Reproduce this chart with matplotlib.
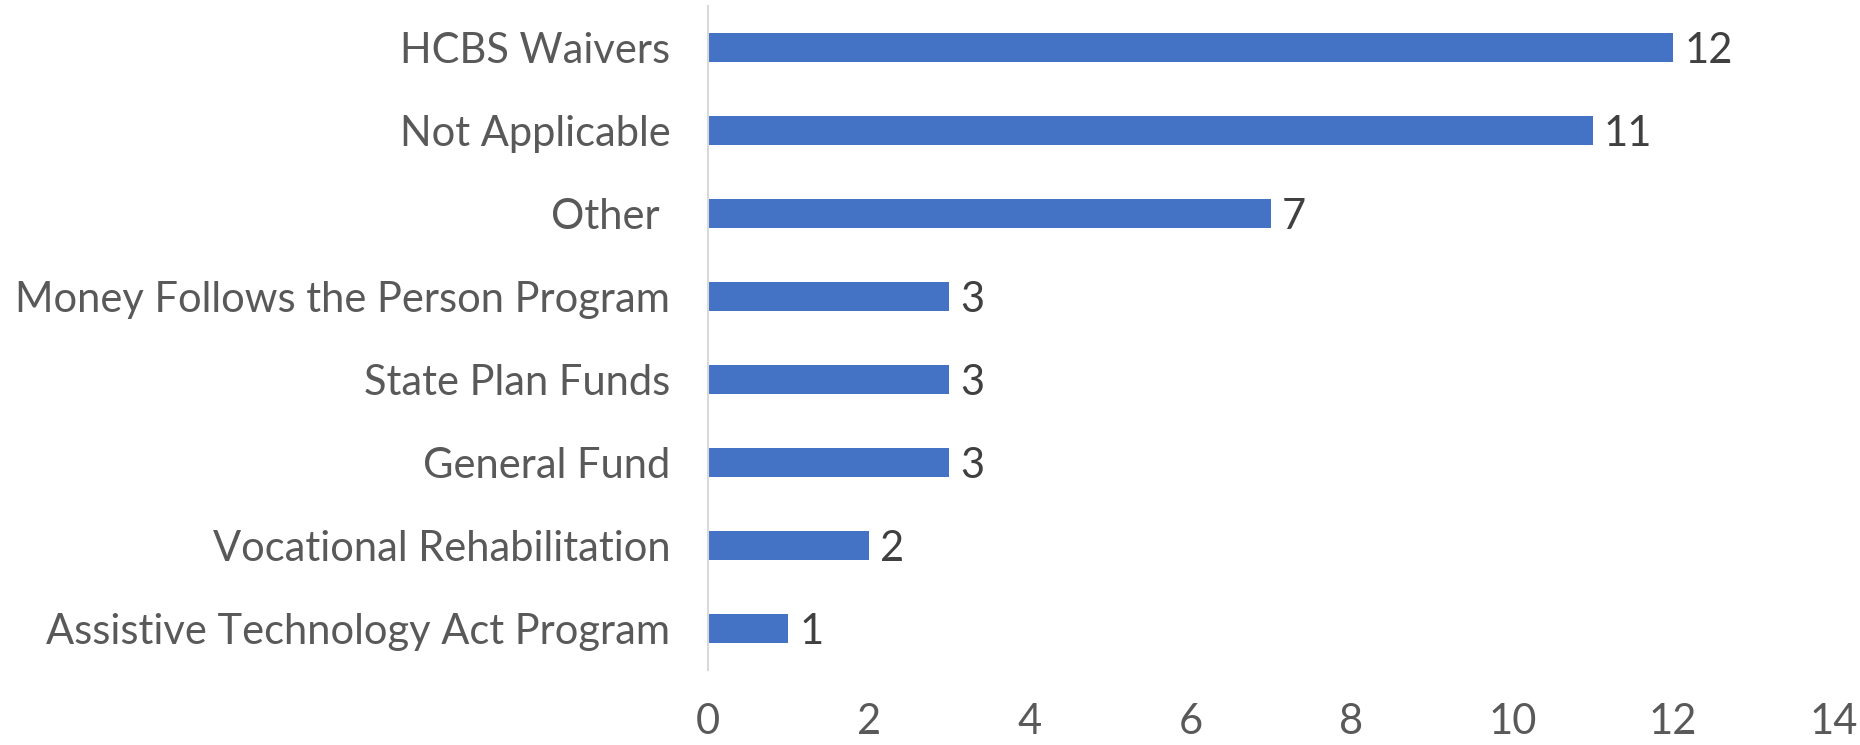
import matplotlib
matplotlib.use("Agg")
import matplotlib.pyplot as plt

# data, top to bottom as in the reference
categories = [
    "HCBS Waivers",
    "Not Applicable",
    "Other ",
    "Money Follows the Person Program",
    "State Plan Funds",
    "General Fund",
    "Vocational Rehabilitation",
    "Assistive Technology Act Program",
]
counts = [12, 11, 7, 3, 3, 3, 2, 1]
x_ticks = [0, 2, 4, 6, 8, 10, 12, 14]

plt.rcParams["font.family"] = ["Lato", "DejaVu Sans"]

fig = plt.figure(figsize=(18.6, 7.45), dpi=100)
ax = fig.add_axes([0.3806, 0.1007, 0.6054, 0.8913])

y_pos = list(range(len(categories)))
bars = ax.barh(y_pos, counts, height=0.35, color="#4472C4")
ax.set_ylim(len(categories) - 0.5, -0.5)
ax.set_xlim(0, 14)

ax.set_yticks(y_pos)
ax.set_yticklabels(categories, fontsize=30, color="#595959")
ax.set_xticks(x_ticks)
ax.set_xticklabels([str(t) for t in x_ticks], fontsize=30, color="#595959")
ax.tick_params(axis="y", length=0, pad=27)
ax.tick_params(axis="x", length=0, pad=24)

for rect, val in zip(bars, counts):
    ax.annotate(str(val), (rect.get_width(), rect.get_y() + rect.get_height() / 2),
                xytext=(11, -4), textcoords="offset pixels",
                ha="left", va="center", fontsize=30, color="#404040")

for side in ["top", "right", "bottom"]:
    ax.spines[side].set_visible(False)
ax.spines["left"].set_color("#D9D9D9")
ax.spines["left"].set_linewidth(1.5)

fig.savefig("out.png", dpi=100)
